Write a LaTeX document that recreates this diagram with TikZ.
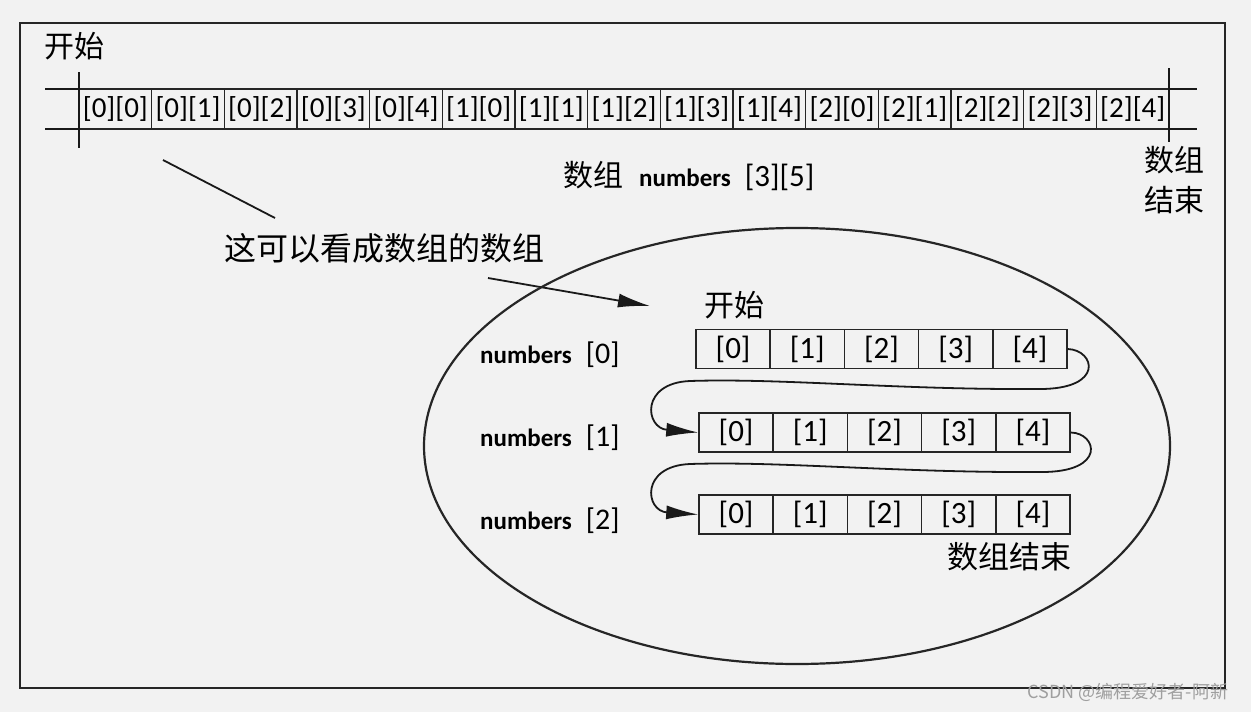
\documentclass[tikz,border=0pt]{standalone}
\usepackage{fontspec}
\setmainfont{Carlito}
\newfontfamily\cjk{Noto Sans CJK SC}
\usetikzlibrary{arrows.meta}
\begin{document}
\begin{tikzpicture}[x=1pt,y=-1pt,
  frame/.style={line width=2pt, draw=black!85},
  conn/.style={line width=1.8pt, draw=black!90},
  tcell/.style={draw=black!85, line width=1.5pt, minimum width=72.67pt, minimum height=40pt, inner sep=0pt, font=\fontsize{29}{30}\selectfont, text=black},
  rcell/.style={draw=black!85, line width=1.5pt, minimum width=74.2pt, minimum height=39pt, inner sep=0pt, font=\fontsize{31}{32}\selectfont, text=black},
  zh/.style={font=\cjk\fontsize{30}{40}\selectfont, inner sep=0pt, text=black},
  lbl/.style={font=\fontsize{25}{28}\selectfont, inner sep=0pt, anchor=west, text=black},
  head/.style={-{Latex[length=32pt,width=14pt]}}
]
\useasboundingbox (0,0) rectangle (1251,712);
\fill[gray!10] (0,0) rectangle (1251,712);
\draw[frame] (20,23) rectangle (1225,688);

% top strip
\coordinate (tl) at (45,89);
\coordinate (tr) at (1197,89);
\coordinate (bl) at (45,129);
\coordinate (br) at (1197,129);
\draw[conn] (tl) -- (tr);
\draw[conn] (bl) -- (br);
\foreach \i in {0,...,14}{
  \pgfmathtruncatemacro\r{int(\i/5)}
  \pgfmathtruncatemacro\c{mod(\i,5)}
  \node[tcell] (t\i) at ({79+72.67*(\i+0.5)},109) {[\r][\c]};
}
\coordinate (s1) at (79,72);
\coordinate (s2) at (79,148);
\coordinate (e1) at (1169,68);
\coordinate (e2) at (1169,142);
\draw[conn] (s1) -- (s2);
\draw[conn] (e1) -- (e2);

\node[zh] (start) at (75,46) {开始};
\node[inner sep=0pt, text=black, anchor=west] (title) at (563,176) {{\cjk\fontsize{30}{36}\selectfont 数组}\hspace{16pt}{\fontsize{25}{28}\selectfont\textbf{numbers}}\hspace{14pt}{\fontsize{31}{32}\selectfont [3][5]}};
\node[zh, align=center] (endt) at (1174,180) {数组\\结束};

% annotation
\node[zh, font=\cjk\fontsize{32}{38}\selectfont] (note) at (384,248) {这可以看成数组的数组};
\coordinate (p1) at (163,160);
\coordinate (p2) at (275,218);
\draw[conn] (p1) -- (p2);
\coordinate (a1) at (488,278);
\coordinate (a2) at (650,306);
\draw[conn, head] (a1) -- (a2);

% ellipse
\draw[line width=2.2pt, draw=black!85] (797,446) ellipse [x radius=373pt, y radius=218pt];

\node[zh] (start2) at (734,305) {开始};

\foreach \r/\x/\y in {0/696/349, 1/699/432.5, 2/699/514.5}{
  \foreach \c in {0,...,4}{
    \node[rcell] (r\r c\c) at ({\x+74.2*(\c+0.5)},\y) {[\c]};
  }
}
\node[lbl] (n0) at (480,355) {\textbf{numbers}\hspace{14pt}{\fontsize{30}{32}\selectfont[0]}};
\node[lbl] (n1) at (480,438) {\textbf{numbers}\hspace{14pt}{\fontsize{30}{32}\selectfont[1]}};
\node[lbl] (n2) at (480,521) {\textbf{numbers}\hspace{14pt}{\fontsize{30}{32}\selectfont[2]}};

\draw[conn, head] (r0c4.east) .. controls (1095,350) and (1105,389) .. (1040,389)
  .. controls (900,390) and (780,378) .. (690,381)
  .. controls (640,383) and (645,428) .. (r1c0.west);
\draw[conn, head] (r1c4.east) .. controls (1097,433) and (1107,472) .. (1042,472)
  .. controls (900,473) and (780,461) .. (690,464)
  .. controls (640,466) and (645,511) .. (r2c0.west);

\node[zh, font=\cjk\fontsize{31}{36}\selectfont] (endr) at (1009,557) {数组结束};

\node[font=\cjk\fontsize{18}{20}\selectfont, text=gray!75, inner sep=0pt] (wm) at (1128,692) {CSDN @编程爱好者-阿新};
\end{tikzpicture}
\end{document}
